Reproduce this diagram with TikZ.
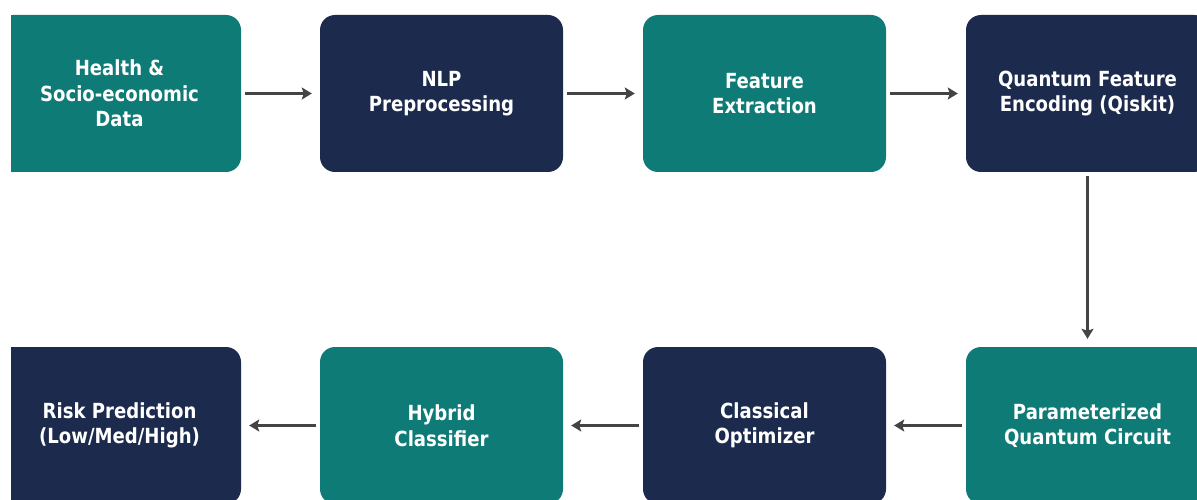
\documentclass[tikz,border=0pt]{standalone}
\usepackage{fontspec}
\newfontfamily\boxfont{DejaVu Sans}[FakeStretch=0.87]
\usetikzlibrary{arrows.meta,positioning}
\definecolor{tealbox}{HTML}{0F7B77}
\definecolor{navybox}{HTML}{1C2A4D}
\definecolor{arrowgray}{HTML}{444444}
\tikzset{
  stagebox/.style={rounded corners=15pt, minimum width=243pt, minimum height=157pt,
    inner sep=0pt, text=white, align=center,
    font=\boxfont\bfseries\fontsize{20.8pt}{25.5pt}\selectfont},
  tealstage/.style={stagebox, fill=tealbox},
  navystage/.style={stagebox, fill=navybox},
  flow/.style={draw=arrowgray, line width=3.8pt, -{Stealth[length=10pt,width=12pt,inset=2pt]},
    shorten <=4pt, shorten >=8pt}
}
\begin{document}
\begin{tikzpicture}[x=1pt,y=-1pt]
\useasboundingbox (0,0) rectangle (1197,500);
\fill[white] (0,0) rectangle (1197,500);
\begin{scope}
\clip (11,0) rectangle (1197,500);
% top row
\node[tealstage] (n1) at (119.5,93.5) {Health \&\\Socio-economic\\Data};
\node[navystage] (n2) at (441.5,93.5) {NLP\\Preprocessing};
\node[tealstage] (n3) at (764.5,93.5) {Feature\\Extraction};
\node[navystage] (n4) at (1087.5,93.5) {Quantum Feature\\Encoding (Qiskit)};
% bottom row
\node[tealstage] (n5) at (1087.5,425.5) {Parameterized\\Quantum Circuit};
\node[navystage] (n6) at (764.5,425.5) {Classical\\Optimizer};
\node[tealstage] (n7) at (441.5,425.5) {Hybrid\\Classifier};
\node[navystage] (n8) at (119.5,425.5) {Risk Prediction\\(Low/Med/High)};
\end{scope}
% connectors
\draw[flow] (n1) -- (n2);
\draw[flow] (n2) -- (n3);
\draw[flow] (n3) -- (n4);
\draw[flow] (n4) -- (n5);
\draw[flow] (n5) -- (n6);
\draw[flow] (n6) -- (n7);
\draw[flow] (n7) -- (n8);
\end{tikzpicture}
\end{document}
